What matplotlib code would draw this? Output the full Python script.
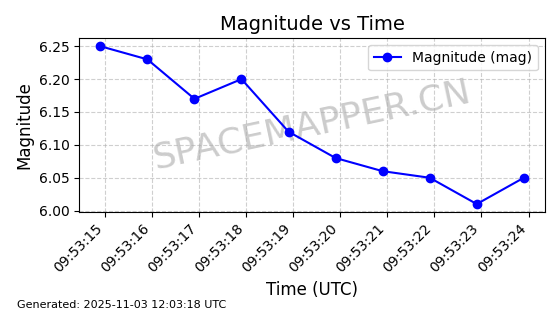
import matplotlib
matplotlib.use("Agg")
import matplotlib.pyplot as plt
import matplotlib.dates as mdates
import pandas as pd

times = ["2025-11-03 09:53:14.9", "2025-11-03 09:53:15.9", "2025-11-03 09:53:16.9",
         "2025-11-03 09:53:17.9", "2025-11-03 09:53:18.9", "2025-11-03 09:53:19.9",
         "2025-11-03 09:53:20.9", "2025-11-03 09:53:21.9", "2025-11-03 09:53:22.9",
         "2025-11-03 09:53:23.9"]
magnitude = [6.25, 6.23, 6.17, 6.20, 6.12, 6.08, 6.06, 6.05, 6.01, 6.05]

t = pd.to_datetime(times)

fig, ax = plt.subplots(figsize=(5.6, 3.14), dpi=100)
ax.plot(t, magnitude, marker="o", color="blue", label="Magnitude (mag)", zorder=3)
ax.set_title("Magnitude vs Time", fontsize=14)
ax.set_xlabel("Time (UTC)", fontsize=12)
ax.set_ylabel("Magnitude", fontsize=12)
ax.xaxis.set_major_locator(mdates.SecondLocator())
ax.xaxis.set_major_formatter(mdates.DateFormatter("%H:%M:%S"))
plt.setp(ax.get_xticklabels(), rotation=45, ha="right")
ax.grid(True, linestyle="--", alpha=0.6)
ax.legend(loc="upper right")
ax.text(0.5, 0.5, "SPACEMAPPER.CN", transform=ax.transAxes, fontsize=26,
        color="gray", alpha=0.4, rotation=12, ha="center", va="center", zorder=1)
fig.tight_layout()
fig.subplots_adjust(bottom=0.325)
fig.text(0.03, 0.02, "Generated: 2025-11-03 12:03:18 UTC", fontsize=8)
fig.savefig("out.png", dpi=100)
